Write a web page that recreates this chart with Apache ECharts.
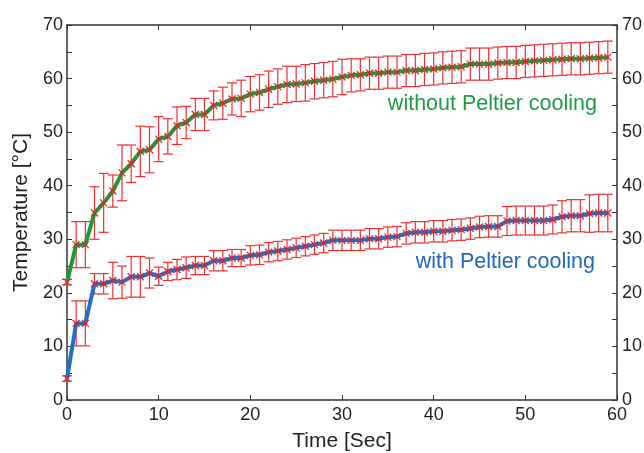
<!DOCTYPE html>
<html>
<head>
<meta charset="utf-8">
<script src="https://cdn.jsdelivr.net/npm/echarts@6/dist/echarts.min.js"></script>
<style>
  html, body { margin: 0; padding: 0; background: #fff; }
  #main { width: 644px; height: 453px; }
</style>
</head>
<body>
<div id="main"></div>
<script>
// time in seconds, one sample per second
var times = [];
for (var i = 0; i < 60; i++) times.push(i);

// without Peltier cooling
var tempNoCooling = [
  22.0, 29.0, 29.0, 34.9, 36.8, 39.0, 42.4, 44.1, 46.4, 46.7,
  48.7, 49.2, 51.2, 51.8, 53.3, 53.3, 55.0, 55.4, 56.2, 56.3,
  57.1, 57.4, 58.0, 58.5, 58.9, 59.0, 59.2, 59.5, 59.7, 59.9,
  60.3, 60.6, 60.7, 61.0, 61.0, 61.2, 61.2, 61.5, 61.5, 61.7,
  61.8, 62.0, 62.1, 62.2, 62.7, 62.7, 62.7, 62.9, 63.0, 63.0,
  63.2, 63.3, 63.4, 63.5, 63.6, 63.7, 63.7, 63.8, 63.9, 64.0
]
var errNoCooling = [
  0.5, 4.3, 4.3, 4.9, 5.5, 3.0, 5.2, 3.5, 4.7, 4.3,
  4.2, 3.3, 3.5, 3.0, 3.0, 3.0, 2.7, 3.0, 3.0, 3.4,
  3.3, 3.3, 3.4, 3.3, 3.4, 3.3, 3.4, 3.3, 3.3, 3.3,
  3.3, 3.1, 3.0, 3.0, 3.0, 3.0, 3.0, 3.0, 3.0, 3.0,
  3.0, 3.0, 3.0, 3.0, 3.0, 3.0, 3.0, 3.0, 3.0, 3.0,
  3.0, 3.0, 3.0, 3.0, 3.0, 3.0, 3.0, 3.0, 3.0, 3.0
]

// with Peltier cooling
var tempCooling = [
  4.0, 14.3, 14.3, 21.7, 21.7, 22.3, 22.0, 23.0, 23.0, 23.7,
  23.1, 24.0, 24.35, 24.7, 25.1, 25.1, 26.0, 26.0, 26.5, 26.5,
  27.0, 27.1, 27.6, 27.8, 28.1, 28.4, 28.7, 29.0, 29.3, 29.8,
  29.8, 29.8, 29.8, 30.1, 30.1, 30.4, 30.5, 31.1, 31.3, 31.3,
  31.5, 31.5, 31.7, 31.8, 32.0, 32.3, 32.4, 32.4, 33.4, 33.5,
  33.5, 33.5, 33.5, 33.7, 34.2, 34.4, 34.4, 34.8, 34.9, 34.9
]
var errCooling = [
  0.5, 4.2, 4.2, 1.9, 1.9, 3.4, 3.0, 3.8, 3.8, 2.8,
  1.7, 1.7, 1.9, 2.0, 1.7, 1.7, 1.9, 1.9, 1.6, 1.6,
  1.8, 1.8, 1.8, 1.8, 1.8, 1.8, 1.8, 1.8, 1.8, 1.9,
  1.9, 1.9, 1.9, 1.9, 1.9, 1.9, 1.9, 2.0, 2.0, 2.0,
  2.0, 2.0, 2.0, 2.0, 2.0, 2.0, 2.0, 2.0, 2.7, 2.7,
  2.7, 2.7, 2.7, 2.7, 3.0, 3.0, 3.0, 3.5, 3.5, 3.5
]

var xTicks = [0, 10, 20, 30, 40, 50, 60]
var yTicks = [0, 10, 20, 30, 40, 50, 60, 70]

var FONT = "'Liberation Sans', Arial, sans-serif"
var RED = '#ee3030'

function points(vals) {
  return times.map(function (t, i) { return [t, vals[i]] })
}
function bars(vals, errs) {
  return times.map(function (t, i) { return [t, vals[i] - errs[i], vals[i] + errs[i]] })
}

function renderErrorBar(params, api) {
  var x = api.value(0)
  var lo = api.coord([x, api.value(1)])
  var hi = api.coord([x, api.value(2)])
  var w = 5
  var style = { stroke: RED, lineWidth: 1.2 }
  return {
    type: 'group',
    children: [
      { type: 'line', shape: { x1: hi[0], y1: hi[1], x2: lo[0], y2: lo[1] }, style: style },
      { type: 'line', shape: { x1: hi[0] - w, y1: hi[1], x2: hi[0] + w, y2: hi[1] }, style: style },
      { type: 'line', shape: { x1: lo[0] - w, y1: lo[1], x2: lo[0] + w, y2: lo[1] }, style: style }
    ]
  }
}

function renderCross(params, api) {
  var p = api.coord([api.value(0), api.value(1)])
  var s = 3.5
  var style = { stroke: '#e8232a', lineWidth: 1.3 }
  return {
    type: 'group',
    children: [
      { type: 'line', shape: { x1: p[0] - s, y1: p[1] - s, x2: p[0] + s, y2: p[1] + s }, style: style },
      { type: 'line', shape: { x1: p[0] - s, y1: p[1] + s, x2: p[0] + s, y2: p[1] - s }, style: style }
    ]
  }
}

// labels only on multiples of 10, ticks every 5
function tenOnly(v) { return v % 10 === 0 ? String(v) : '' }

var axisLine = { show: true, onZero: false, lineStyle: { color: '#333', width: 1.5 } }
var tick = { show: true, inside: true, length: 5, lineStyle: { color: '#333', width: 1 } }
var tickLabel = { color: '#222', fontSize: 18, fontFamily: FONT }
var nameStyle = { color: '#222', fontSize: 21, fontFamily: FONT }

var option = {
  animation: false,
  backgroundColor: '#fff',
  grid: { left: 67, right: 27, top: 25, bottom: 53, outerBoundsMode: 'none' },
  xAxis: [
    {
      type: 'value', min: xTicks[0], max: xTicks[xTicks.length - 1], interval: 10,
      name: 'Time [Sec]', nameLocation: 'middle', nameGap: 31, nameTextStyle: nameStyle,
      axisLine: axisLine, axisTick: tick, splitLine: { show: false },
      axisLabel: Object.assign({ margin: 6 }, tickLabel)
    },
    {
      type: 'value', position: 'top', min: xTicks[0], max: xTicks[xTicks.length - 1], interval: 10,
      axisLine: axisLine, axisTick: tick, splitLine: { show: false },
      axisLabel: { show: false }
    }
  ],
  yAxis: [
    {
      type: 'value', min: yTicks[0], max: yTicks[yTicks.length - 1], interval: 5,
      name: 'Temperature [°C]', nameLocation: 'middle', nameGap: 34, nameTextStyle: nameStyle,
      axisLine: axisLine, axisTick: tick, splitLine: { show: false },
      axisLabel: Object.assign({ margin: 4, formatter: tenOnly }, tickLabel)
    },
    {
      type: 'value', position: 'right', min: yTicks[0], max: yTicks[yTicks.length - 1], interval: 5,
      axisLine: axisLine, axisTick: tick, splitLine: { show: false },
      axisLabel: Object.assign({ margin: 5, formatter: tenOnly }, tickLabel)
    }
  ],
  graphic: [
    {
      type: 'text', right: 47, top: 93, z: 10,
      style: { text: 'without Peltier cooling', fill: '#1f9a45', fontSize: 21.5, fontFamily: FONT }
    },
    {
      type: 'text', right: 49, top: 251, z: 10,
      style: { text: 'with Peltier cooling', fill: '#2068b8', fontSize: 21.5, fontFamily: FONT }
    }
  ],
  series: [
    {
      type: 'custom', name: 'err-no', renderItem: renderErrorBar, z: 1,
      encode: { x: 0, y: [1, 2] }, data: bars(tempNoCooling, errNoCooling)
    },
    {
      type: 'custom', name: 'err-cool', renderItem: renderErrorBar, z: 1,
      encode: { x: 0, y: [1, 2] }, data: bars(tempCooling, errCooling)
    },
    {
      type: 'line', name: 'without Peltier cooling', z: 2, showSymbol: false,
      lineStyle: { color: '#1a9a3c', width: 4 }, data: points(tempNoCooling)
    },
    {
      type: 'line', name: 'with Peltier cooling', z: 2, showSymbol: false,
      lineStyle: { color: '#1f6fc4', width: 4 }, data: points(tempCooling)
    },
    {
      type: 'custom', name: 'mk-no', renderItem: renderCross, z: 3,
      encode: { x: 0, y: 1 }, data: points(tempNoCooling)
    },
    {
      type: 'custom', name: 'mk-cool', renderItem: renderCross, z: 3,
      encode: { x: 0, y: 1 }, data: points(tempCooling)
    }
  ]
}

var chart = echarts.init(document.getElementById('main'))
chart.setOption(option)
</script>
</body>
</html>
